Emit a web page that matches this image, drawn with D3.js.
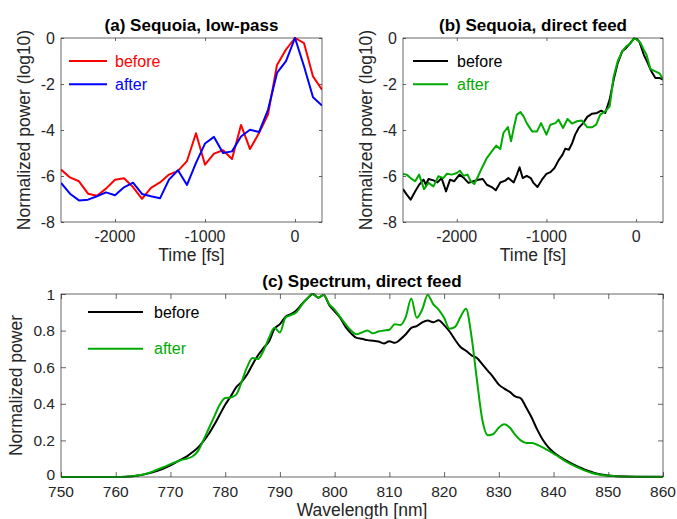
<!DOCTYPE html>
<html><head><meta charset="utf-8">
<script src="https://cdn.jsdelivr.net/npm/d3@7"></script>
<style>
body{margin:0;background:#fff;}
svg{display:block;font-family:"Liberation Sans",Arial,Helvetica,sans-serif;}
</style></head>
<body><svg id="chart" width="677" height="519"></svg>
<script>
// ---------- Data ----------
// (a) Sequoia, low-pass
const aTime = [-2600,-2500,-2400,-2300,-2200,-2100,-2000,-1900,-1800,-1700,-1600,-1500,-1400,-1300,-1200,-1100,-1000,-900,-800,-700,-600,-500,-400,-300,-200,-100,0,100,200,300];
const aBefore = [-5.72,-6.06,-6.23,-6.77,-6.86,-6.55,-6.16,-6.1,-6.48,-6.99,-6.52,-6.28,-5.94,-5.78,-5.35,-4.14,-5.51,-5.03,-4.88,-5.26,-3.78,-4.83,-4.13,-3.33,-1.17,-0.5,0,-0.22,-1.67,-2.25];
const aAfter = [-6.3,-6.77,-7.06,-7.03,-6.88,-6.71,-6.84,-6.49,-6.29,-6.78,-6.88,-6.97,-6.16,-5.75,-6.39,-5.43,-4.59,-4.3,-5.0,-4.93,-4.28,-3.99,-4.09,-3.12,-1.52,-1.01,0,-1.23,-2.58,-2.94];

// (b) Sequoia, direct feed
const bTimeBefore = [-2600,-2560,-2515,-2465,-2420,-2370,-2345,-2315,-2260,-2215,-2170,-2120,-2075,-2030,-1970,-1920,-1870,-1815,-1760,-1710,-1665,-1610,-1565,-1515,-1460,-1425,-1365,-1330,-1300,-1265,-1220,-1175,-1145,-1100,-1050,-1000,-955,-910,-865,-820,-790,-750,-715,-680,-640,-590,-545,-490,-435,-390,-345,-295,-250,-205,-155,-110,-65,-25,10,40,85,130,170,215,265,300];
const bBefore = [-6.57,-6.8,-7.03,-6.67,-6.38,-6.16,-6.38,-6.13,-6.19,-6.28,-6.09,-6.67,-6.16,-6.23,-5.94,-6.09,-6.3,-6.23,-6.16,-6.13,-6.38,-6.48,-6.62,-6.28,-6.2,-6.09,-6.28,-5.94,-5.62,-6.09,-5.99,-6.09,-6.3,-6.48,-6.16,-5.91,-5.83,-5.65,-5.32,-5.07,-4.81,-4.86,-4.59,-4.2,-3.91,-3.7,-3.43,-3.29,-3.26,-3.16,-3.26,-2.68,-1.81,-1.09,-0.58,-0.43,-0.22,-0.03,-0.04,-0.19,-0.72,-1.09,-1.45,-1.74,-1.74,-1.81];
const bTimeAfter = [-2600,-2560,-2515,-2465,-2420,-2365,-2315,-2260,-2205,-2150,-2110,-2055,-2000,-1965,-1925,-1880,-1845,-1805,-1760,-1720,-1665,-1610,-1560,-1515,-1480,-1430,-1395,-1360,-1330,-1290,-1255,-1220,-1160,-1105,-1060,-1000,-955,-900,-865,-815,-765,-715,-660,-605,-545,-490,-445,-400,-345,-295,-250,-205,-155,-110,-65,-25,10,50,85,115,160,215,265,300];
const bAfter = [-5.91,-5.94,-6.09,-6.23,-5.94,-6.57,-6.3,-6.45,-6.01,-6.09,-5.9,-5.94,-5.87,-5.77,-5.99,-5.94,-6.23,-6.35,-5.99,-5.65,-5.22,-4.93,-4.68,-4.83,-4.13,-3.87,-4.49,-3.84,-3.33,-3.22,-3.41,-3.7,-4.06,-4.06,-3.7,-4.2,-3.77,-3.7,-3.55,-3.91,-3.52,-3.72,-3.62,-3.59,-3.88,-3.88,-3.77,-3.33,-3.19,-2.97,-1.67,-1.01,-0.58,-0.36,-0.25,-0.01,-0.07,-0.22,-0.51,-0.72,-1.35,-1.45,-1.55,-1.81];

// (c) Spectrum, direct feed
const cWavelength = [750,755,760,762,763,764,765,766,767,768,769,770,771,772,773,774,775,776,777,778,779,780,781,782,783,784,785,786,787,788,789,790,791,792,793,794,795,796,797,798,799,800,801,802,803,804,805,806,807,808,809,810,811,812,813,814,815,816,817,818,819,820,821,822,823,824,825,826,827,828,829,830,831,832,833,834,835,836,837,838,839,840,841,842,843,844,845,846,847,848,849,850,851,852,855,860];
const cBefore = [0,0,0,0.002,0.004,0.008,0.013,0.02,0.028,0.038,0.05,0.064,0.08,0.096,0.113,0.135,0.16,0.195,0.235,0.285,0.34,0.395,0.44,0.49,0.52,0.56,0.615,0.665,0.705,0.74,0.81,0.835,0.875,0.89,0.91,0.945,0.975,1.0,0.98,0.995,0.94,0.905,0.87,0.82,0.785,0.76,0.755,0.748,0.745,0.74,0.73,0.742,0.733,0.752,0.78,0.815,0.825,0.845,0.855,0.845,0.857,0.83,0.795,0.75,0.71,0.69,0.665,0.65,0.615,0.58,0.545,0.505,0.483,0.465,0.44,0.43,0.38,0.325,0.26,0.205,0.165,0.135,0.113,0.095,0.078,0.063,0.05,0.037,0.027,0.018,0.012,0.008,0.005,0.004,0.002,0.001];
const cAfter = [0,0,0,0.002,0.004,0.008,0.014,0.022,0.033,0.045,0.057,0.07,0.082,0.093,0.1,0.112,0.14,0.2,0.265,0.33,0.395,0.432,0.435,0.45,0.52,0.6,0.65,0.645,0.69,0.76,0.815,0.79,0.87,0.885,0.9,0.94,0.975,1.0,0.98,0.995,0.945,0.915,0.875,0.835,0.8,0.78,0.79,0.8,0.785,0.795,0.8,0.805,0.835,0.83,0.875,0.975,0.87,0.915,0.995,0.945,0.915,0.87,0.81,0.82,0.875,0.92,0.77,0.53,0.31,0.228,0.235,0.27,0.288,0.27,0.23,0.2,0.186,0.186,0.176,0.162,0.145,0.128,0.11,0.09,0.073,0.058,0.044,0.032,0.022,0.015,0.01,0.007,0.005,0.003,0.001,0];

const timeTicks = [-2000,-1000,0];
const logTicks = [0,-2,-4,-6,-8];
const wlTicks = [750,760,770,780,790,800,810,820,830,840,850,860];
const powTicks = [0,0.2,0.4,0.6,0.8,1];
const legendLabels = ["before","after"];
const titles = ["(a) Sequoia, low-pass","(b) Sequoia, direct feed","(c) Spectrum, direct feed"];

// ---------- Drawing ----------
const svg = d3.select("#chart");
const AX = "#262626";
const fmt = d => String(d);

function panel(o){
  const x = d3.scaleLinear().domain(o.xd).range([o.x0,o.x1]);
  const y = d3.scaleLinear().domain(o.yd).range([o.y1,o.y0]);
  const g = svg.append("g");
  const tl = o.tick;
  // ticks (inward on all four sides)
  const axB = d3.axisBottom(x).tickValues(o.xt).tickSize(-tl).tickFormat("");
  const axT = d3.axisTop(x).tickValues(o.xt).tickSize(-tl).tickFormat("");
  const axL = d3.axisLeft(y).tickValues(o.yt).tickSize(-tl).tickFormat("");
  const axR = d3.axisRight(y).tickValues(o.yt).tickSize(-tl).tickFormat("");
  [[axB,`translate(0,${o.y1})`],[axT,`translate(0,${o.y0})`],[axL,`translate(${o.x0},0)`],[axR,`translate(${o.x1},0)`]].forEach(([a,t])=>{
    const s = g.append("g").attr("transform",t).call(a);
    s.select(".domain").remove();
    s.selectAll("line").attr("stroke",AX).attr("stroke-width",0.7);
  });
  // data
  const clipId = "clip"+o.id;
  svg.append("clipPath").attr("id",clipId).append("rect")
    .attr("x",o.x0).attr("y",o.y0-2).attr("width",o.x1-o.x0).attr("height",o.y1-o.y0+4);
  o.series.forEach(s=>{
    const pts = s.x.map((v,i)=>[v,s.y[i]]);
    const line = d3.line().x(d=>x(d[0])).y(d=>y(d[1])).curve(s.curve||d3.curveLinear);
    g.append("path").datum(pts).attr("d",line).attr("fill","none")
      .attr("stroke",s.color).attr("stroke-width",2).attr("stroke-linejoin","round")
      .attr("clip-path",`url(#${clipId})`);
  });
  // box
  g.append("rect").attr("x",o.x0).attr("y",o.y0).attr("width",o.x1-o.x0).attr("height",o.y1-o.y0)
    .attr("fill","none").attr("stroke",AX).attr("stroke-width",0.7);
  // tick labels
  const fs = o.tickFs;
  g.selectAll(".xl").data(o.xt).enter().append("text")
    .attr("x",d=>x(d)).attr("y",o.y1+o.xtOff).attr("text-anchor","middle")
    .attr("font-size",fs).attr("fill",AX).text(fmt);
  g.selectAll(".yl").data(o.yt).enter().append("text")
    .attr("x",o.x0-6).attr("y",d=>y(d)+(d===o.yd[0] ? o.ytOffMin : 0.357*fs)).attr("text-anchor","end")
    .attr("font-size",fs).attr("fill",AX).text(fmt);
  // axis labels
  g.append("text").attr("x",(o.x0+o.x1)/2).attr("y",o.xlY).attr("text-anchor","middle")
    .attr("font-size",17.5).attr("fill",AX).text(o.xlabel);
  g.append("text").attr("transform",`translate(${o.ylX},${(o.y0+o.y1)/2}) rotate(-90)`)
    .attr("text-anchor","middle").attr("font-size",17.5).attr("fill",AX).text(o.ylabel);
  // title
  g.append("text").attr("x",(o.x0+o.x1)/2).attr("y",o.y0-7).attr("text-anchor","middle")
    .attr("font-size",17).attr("font-weight","bold").attr("fill","#000").text(o.title);
  // legend
  o.series.forEach((s,i)=>{
    const ly = o.leg.y + i*o.leg.dy;
    g.append("line").attr("x1",o.leg.x0).attr("x2",o.leg.x1).attr("y1",ly).attr("y2",ly)
      .attr("stroke",s.color).attr("stroke-width",2);
    g.append("text").attr("x",o.leg.tx).attr("y",ly+5.5).attr("font-size",16)
      .attr("fill",s.color).text(s.label);
  });
}

panel({id:"a",x0:61,x1:322,y0:38,y1:222,xd:[-2600,300],yd:[-8,0],xt:timeTicks,yt:logTicks,tick:3,
  tickFs:16,xtOff:19.5,ytOffMin:5.7,
  xlabel:"Time [fs]",ylabel:"Normalized power (log10)",xlY:261,ylX:30,title:titles[0],
  leg:{x0:69,x1:107,tx:115,y:61,dy:23.3},
  series:[{x:aTime,y:aBefore,color:"#ff0000",label:legendLabels[0]},
          {x:aTime,y:aAfter,color:"#0000ff",label:legendLabels[1]}]});

panel({id:"b",x0:403,x1:663,y0:38,y1:222,xd:[-2600,300],yd:[-8,0],xt:timeTicks,yt:logTicks,tick:3,
  tickFs:16,xtOff:19.5,ytOffMin:5.7,
  xlabel:"Time [fs]",ylabel:"Normalized power (log10)",xlY:261,ylX:371.5,title:titles[1],
  leg:{x0:413,x1:448,tx:457,y:61,dy:23.3},
  series:[{x:bTimeBefore,y:bBefore,color:"#000000",label:legendLabels[0]},
          {x:bTimeAfter,y:bAfter,color:"#00aa00",label:legendLabels[1]}]});

panel({id:"c",x0:61,x1:663,y0:294,y1:477,xd:[750,860],yd:[0,1],xt:wlTicks,yt:powTicks,tick:5,
  tickFs:15.5,xtOff:19.7,ytOffMin:2.6,
  xlabel:"Wavelength [nm]",ylabel:"Normalized power",xlY:516,ylX:22,title:titles[2],
  leg:{x0:88,x1:143,tx:154,y:312,dy:36.7},
  series:[{x:cWavelength,y:cBefore,color:"#000000",label:legendLabels[0],curve:d3.curveMonotoneX},
          {x:cWavelength,y:cAfter,color:"#00aa00",label:legendLabels[1],curve:d3.curveMonotoneX}]});
</script></body></html>
